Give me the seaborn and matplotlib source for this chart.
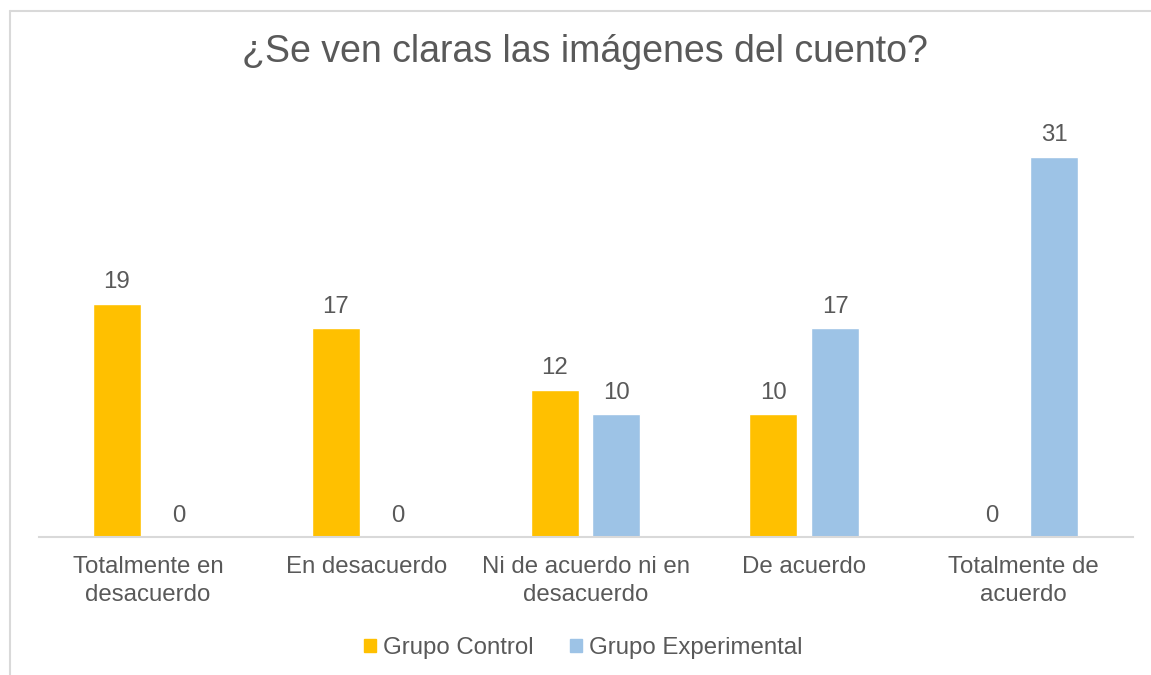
import pandas as pd
import numpy as np
import matplotlib
matplotlib.use("Agg")
import matplotlib.pyplot as plt
import seaborn as sns

# datos
categorias = ["Totalmente en\ndesacuerdo", "En desacuerdo", "Ni de acuerdo ni en\ndesacuerdo",
              "De acuerdo", "Totalmente de\nacuerdo"]
grupo_control = [19, 17, 12, 10, 0]
grupo_experimental = [0, 0, 10, 17, 31]
grupos = ["Grupo Control", "Grupo Experimental"]
colores = ["#FFC000", "#9DC3E6"]

df = pd.DataFrame({
    "respuesta": categorias * 2,
    "valor": grupo_control + grupo_experimental,
    "grupo": [grupos[0]] * len(categorias) + [grupos[1]] * len(categorias),
})

sns.set_theme(style="white")
plt.rcParams["font.family"] = ["Liberation Sans", "DejaVu Sans"]
gris = "#595959"
tam = 17.3

fig = plt.figure(figsize=(11.51, 6.75), dpi=100)
ax = fig.add_axes([38.5 / 1151, 138 / 675, 1094 / 1151, 429.5 / 675])

sns.barplot(data=df, x="respuesta", y="valor", hue="grupo", order=categorias,
            hue_order=grupos, palette=colores, saturation=1, width=0.566, gap=0.226,
            ax=ax, errorbar=None)

ax.set_ylim(0, 35)
ax.set_xlim(-0.5, len(categorias) - 0.5)
ax.set_yticks([])
ax.set_xlabel("")
ax.set_ylabel("")
for s in ["top", "right", "left"]:
    ax.spines[s].set_visible(False)
ax.spines["bottom"].set_color("#D9D9D9")
ax.spines["bottom"].set_linewidth(1.5)
ax.tick_params(axis="x", length=0, pad=14, labelsize=tam, labelcolor=gris)
for t in ax.get_xticklabels():
    t.set_linespacing(1.3)

for c in ax.containers:
    ax.bar_label(c, padding=7.5, fontsize=tam, color=gris)

ax.legend_.remove()
handles = [plt.Rectangle((0, 0), 1, 1, color=col) for col in colores]
fig.legend(handles, grupos, loc="center", bbox_to_anchor=(0.507, 1 - 648 / 675), ncol=2,
           frameon=False, fontsize=tam, labelcolor=gris, handlelength=0.5, handleheight=0.5,
           handletextpad=0.3, columnspacing=1.5)

fig.text(0.508, 1 - 52 / 675, "¿Se ven claras las imágenes del cuento?", ha="center",
         va="center", fontsize=27, color=gris)

# borde del área del gráfico
fig.add_artist(plt.Line2D([9.5 / 1151, 9.5 / 1151], [0, 1 - 10.5 / 675], color="#D9D9D9",
                          lw=1.5, transform=fig.transFigure))
fig.add_artist(plt.Line2D([9.5 / 1151, 1], [1 - 10.5 / 675, 1 - 10.5 / 675], color="#D9D9D9",
                          lw=1.5, transform=fig.transFigure))

fig.savefig("out.png", dpi=100)
